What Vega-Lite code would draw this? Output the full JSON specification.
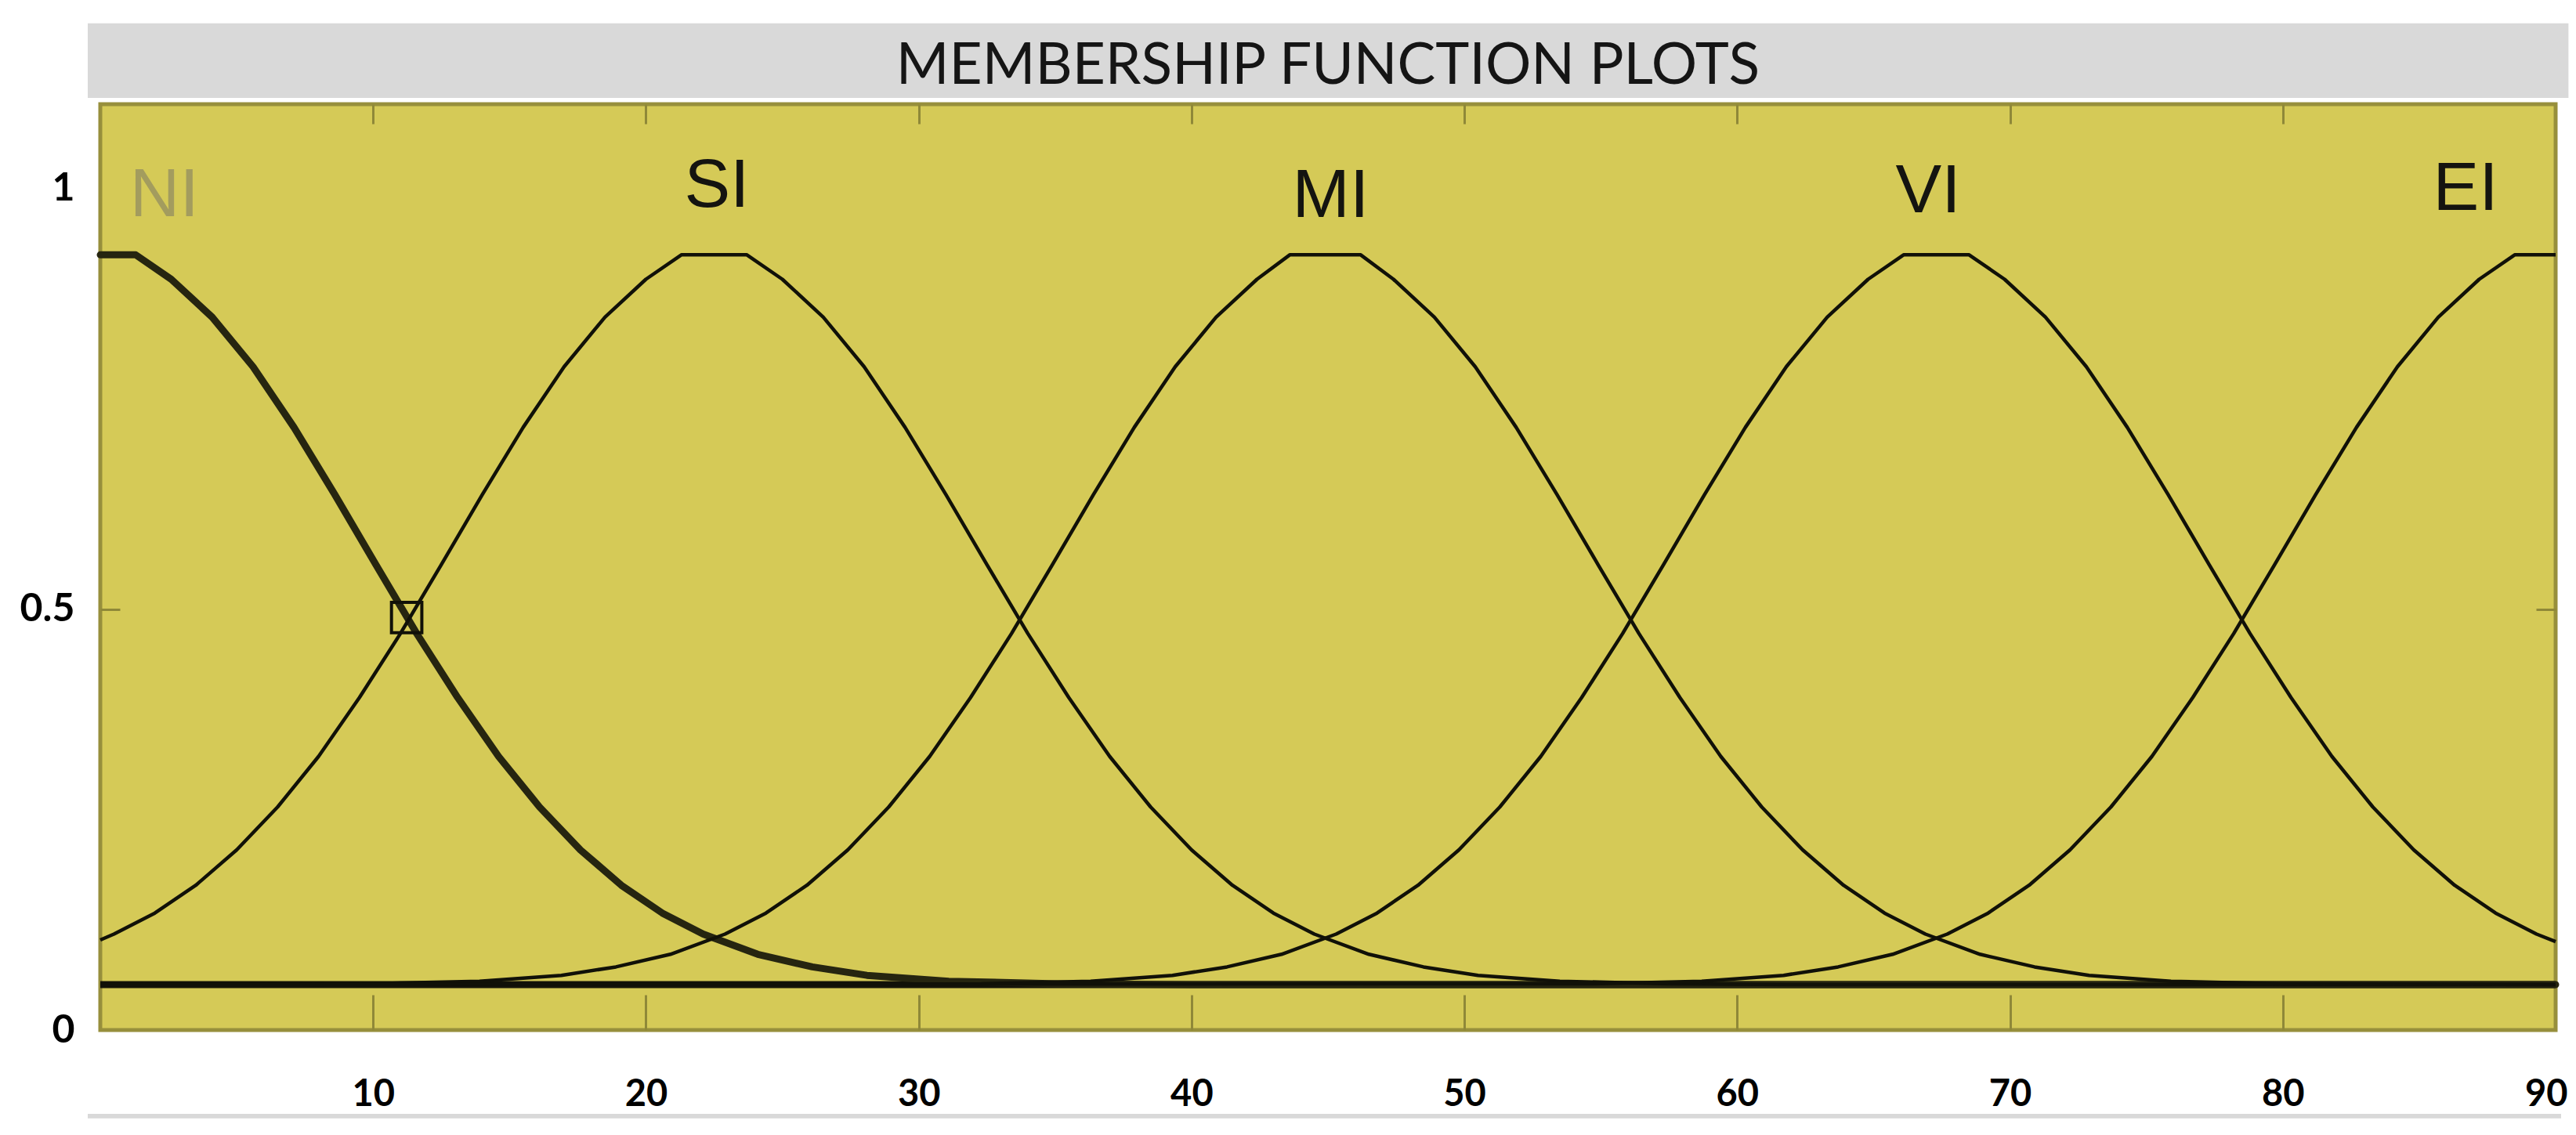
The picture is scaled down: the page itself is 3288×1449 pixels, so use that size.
{
  "$schema": "https://vega.github.io/schema/vega-lite/v6.json",
  "width": 3134,
  "height": 1182,
  "autosize": {"type": "none"},
  "padding": {"left": 128, "top": 133, "right": 26, "bottom": 134},
  "background": "#ffffff",
  "config": {
    "font": "Lato",
    "view": {"fill": "#d5ca57", "stroke": "#978f3c", "strokeWidth": 5}
  },
  "datasets": {
    "curves": [
      {"mf":"NI","x":0,"y":0.921},{"mf":"NI","x":1.3,"y":0.921},{"mf":"NI","x":2.6,"y":0.892},{"mf":"NI","x":4.1,"y":0.847},{"mf":"NI","x":5.6,"y":0.788},{"mf":"NI","x":7.1,"y":0.716},{"mf":"NI","x":8.6,"y":0.636},{"mf":"NI","x":10.1,"y":0.553},{"mf":"NI","x":11.6,"y":0.471},{"mf":"NI","x":13.1,"y":0.395},{"mf":"NI","x":14.6,"y":0.325},{"mf":"NI","x":16.1,"y":0.265},{"mf":"NI","x":17.6,"y":0.214},{"mf":"NI","x":19.1,"y":0.172},{"mf":"NI","x":20.6,"y":0.139},{"mf":"NI","x":22.1,"y":0.114},{"mf":"NI","x":24.1,"y":0.09},{"mf":"NI","x":26.1,"y":0.075},{"mf":"NI","x":28.1,"y":0.065},{"mf":"NI","x":31.1,"y":0.058},{"mf":"NI","x":35.1,"y":0.055},{"mf":"NI","x":40,"y":0.054},{"mf":"NI","x":90,"y":0.054},
      {"mf":"SI","x":0,"y":0.107},{"mf":"SI","x":0.5,"y":0.114},{"mf":"SI","x":2,"y":0.139},{"mf":"SI","x":3.5,"y":0.172},{"mf":"SI","x":5,"y":0.214},{"mf":"SI","x":6.5,"y":0.265},{"mf":"SI","x":8,"y":0.325},{"mf":"SI","x":9.5,"y":0.395},{"mf":"SI","x":11,"y":0.471},{"mf":"SI","x":12.5,"y":0.553},{"mf":"SI","x":14,"y":0.636},{"mf":"SI","x":15.5,"y":0.716},{"mf":"SI","x":17,"y":0.788},{"mf":"SI","x":18.5,"y":0.847},{"mf":"SI","x":20,"y":0.892},{"mf":"SI","x":21.3,"y":0.921},{"mf":"SI","x":23.7,"y":0.921},{"mf":"SI","x":25,"y":0.892},{"mf":"SI","x":26.5,"y":0.847},{"mf":"SI","x":28,"y":0.788},{"mf":"SI","x":29.5,"y":0.716},{"mf":"SI","x":31,"y":0.636},{"mf":"SI","x":32.5,"y":0.553},{"mf":"SI","x":34,"y":0.471},{"mf":"SI","x":35.5,"y":0.395},{"mf":"SI","x":37,"y":0.325},{"mf":"SI","x":38.5,"y":0.265},{"mf":"SI","x":40,"y":0.214},{"mf":"SI","x":41.5,"y":0.172},{"mf":"SI","x":43,"y":0.139},{"mf":"SI","x":44.5,"y":0.114},{"mf":"SI","x":46.5,"y":0.09},{"mf":"SI","x":48.5,"y":0.075},{"mf":"SI","x":50.5,"y":0.065},{"mf":"SI","x":53.5,"y":0.058},{"mf":"SI","x":57.5,"y":0.055},{"mf":"SI","x":62,"y":0.054},{"mf":"SI","x":90,"y":0.054},
      {"mf":"MI","x":0,"y":0.054},{"mf":"MI","x":9.9,"y":0.055},{"mf":"MI","x":13.9,"y":0.058},{"mf":"MI","x":16.9,"y":0.065},{"mf":"MI","x":18.9,"y":0.075},{"mf":"MI","x":20.9,"y":0.09},{"mf":"MI","x":22.9,"y":0.114},{"mf":"MI","x":24.4,"y":0.139},{"mf":"MI","x":25.9,"y":0.172},{"mf":"MI","x":27.4,"y":0.214},{"mf":"MI","x":28.9,"y":0.265},{"mf":"MI","x":30.4,"y":0.325},{"mf":"MI","x":31.9,"y":0.395},{"mf":"MI","x":33.4,"y":0.471},{"mf":"MI","x":34.9,"y":0.553},{"mf":"MI","x":36.4,"y":0.636},{"mf":"MI","x":37.9,"y":0.716},{"mf":"MI","x":39.4,"y":0.788},{"mf":"MI","x":40.9,"y":0.847},{"mf":"MI","x":42.4,"y":0.892},{"mf":"MI","x":43.6,"y":0.921},{"mf":"MI","x":46.2,"y":0.921},{"mf":"MI","x":47.4,"y":0.892},{"mf":"MI","x":48.9,"y":0.847},{"mf":"MI","x":50.4,"y":0.788},{"mf":"MI","x":51.9,"y":0.716},{"mf":"MI","x":53.4,"y":0.636},{"mf":"MI","x":54.9,"y":0.553},{"mf":"MI","x":56.4,"y":0.471},{"mf":"MI","x":57.9,"y":0.395},{"mf":"MI","x":59.4,"y":0.325},{"mf":"MI","x":60.9,"y":0.265},{"mf":"MI","x":62.4,"y":0.214},{"mf":"MI","x":63.9,"y":0.172},{"mf":"MI","x":65.4,"y":0.139},{"mf":"MI","x":66.9,"y":0.114},{"mf":"MI","x":68.9,"y":0.09},{"mf":"MI","x":70.9,"y":0.075},{"mf":"MI","x":72.9,"y":0.065},{"mf":"MI","x":75.9,"y":0.058},{"mf":"MI","x":79.9,"y":0.055},{"mf":"MI","x":90,"y":0.054},
      {"mf":"VI","x":0,"y":0.054},{"mf":"VI","x":32.3,"y":0.055},{"mf":"VI","x":36.3,"y":0.058},{"mf":"VI","x":39.3,"y":0.065},{"mf":"VI","x":41.3,"y":0.075},{"mf":"VI","x":43.3,"y":0.09},{"mf":"VI","x":45.3,"y":0.114},{"mf":"VI","x":46.8,"y":0.139},{"mf":"VI","x":48.3,"y":0.172},{"mf":"VI","x":49.8,"y":0.214},{"mf":"VI","x":51.3,"y":0.265},{"mf":"VI","x":52.8,"y":0.325},{"mf":"VI","x":54.3,"y":0.395},{"mf":"VI","x":55.8,"y":0.471},{"mf":"VI","x":57.3,"y":0.553},{"mf":"VI","x":58.8,"y":0.636},{"mf":"VI","x":60.3,"y":0.716},{"mf":"VI","x":61.8,"y":0.788},{"mf":"VI","x":63.3,"y":0.847},{"mf":"VI","x":64.8,"y":0.892},{"mf":"VI","x":66.1,"y":0.921},{"mf":"VI","x":68.5,"y":0.921},{"mf":"VI","x":69.8,"y":0.892},{"mf":"VI","x":71.3,"y":0.847},{"mf":"VI","x":72.8,"y":0.788},{"mf":"VI","x":74.3,"y":0.716},{"mf":"VI","x":75.8,"y":0.636},{"mf":"VI","x":77.3,"y":0.553},{"mf":"VI","x":78.8,"y":0.471},{"mf":"VI","x":80.3,"y":0.395},{"mf":"VI","x":81.8,"y":0.325},{"mf":"VI","x":83.3,"y":0.265},{"mf":"VI","x":84.8,"y":0.214},{"mf":"VI","x":86.3,"y":0.172},{"mf":"VI","x":87.8,"y":0.139},{"mf":"VI","x":89.3,"y":0.114},{"mf":"VI","x":90,"y":0.105},
      {"mf":"EI","x":0,"y":0.054},{"mf":"EI","x":54.7,"y":0.055},{"mf":"EI","x":58.7,"y":0.058},{"mf":"EI","x":61.7,"y":0.065},{"mf":"EI","x":63.7,"y":0.075},{"mf":"EI","x":65.7,"y":0.09},{"mf":"EI","x":67.7,"y":0.114},{"mf":"EI","x":69.2,"y":0.139},{"mf":"EI","x":70.7,"y":0.172},{"mf":"EI","x":72.2,"y":0.214},{"mf":"EI","x":73.7,"y":0.265},{"mf":"EI","x":75.2,"y":0.325},{"mf":"EI","x":76.7,"y":0.395},{"mf":"EI","x":78.2,"y":0.471},{"mf":"EI","x":79.7,"y":0.553},{"mf":"EI","x":81.2,"y":0.636},{"mf":"EI","x":82.7,"y":0.716},{"mf":"EI","x":84.2,"y":0.788},{"mf":"EI","x":85.7,"y":0.847},{"mf":"EI","x":87.2,"y":0.892},{"mf":"EI","x":88.5,"y":0.921},{"mf":"EI","x":90,"y":0.921}
    ],
    "labels": [
      {"label":"NI","x":2.35,"y":0.991},
      {"label":"SI","x":22.6,"y":1.002},
      {"label":"MI","x":45.1,"y":0.99},
      {"label":"VI","x":67.0,"y":0.996},
      {"label":"EI","x":86.7,"y":0.999}
    ],
    "marker": [{"mf":"NI","x":11.23,"y":0.49}]
  },
  "resolve": {"axis": {"x": "independent", "y": "independent"}},
  "layer": [
    {
      "data": {"values": [{}]},
      "mark": {"type": "rect", "color": "#d9d9d9"},
      "encoding": {
        "x": {"datum": -0.46, "type": "quantitative", "scale": {"domain": [0, 90], "nice": false}, "axis": null},
        "x2": {"datum": 90.47},
        "y": {"datum": 1.1075, "type": "quantitative", "scale": {"domain": [0, 1.1], "nice": false}, "axis": null},
        "y2": {"datum": 1.196}
      }
    },
    {
      "data": {"values": [{}]},
      "mark": {"type": "text", "text": "MEMBERSHIP FUNCTION PLOTS", "font": "Lato", "fontSize": 73, "color": "#151515", "baseline": "alphabetic", "align": "center"},
      "encoding": {
        "x": {"datum": 45, "type": "quantitative", "scale": {"domain": [0, 90], "nice": false}, "axis": null},
        "y": {"datum": 1.1243, "type": "quantitative", "scale": {"domain": [0, 1.1], "nice": false}, "axis": null}
      }
    },
    {
      "data": {"values": [{}]},
      "mark": {"type": "rect", "color": "#d9d9d9"},
      "encoding": {
        "x": {"datum": -0.46, "type": "quantitative", "scale": {"domain": [0, 90], "nice": false}, "axis": null},
        "x2": {"datum": 90.2},
        "y": {"datum": -0.105, "type": "quantitative", "scale": {"domain": [0, 1.1], "nice": false}, "axis": null},
        "y2": {"datum": -0.0996}
      }
    },
    {
      "data": {"values": [{}]},
      "mark": {"type": "rule", "color": "#16150a", "strokeWidth": 9},
      "encoding": {
        "y": {"datum": 0.054, "type": "quantitative", "scale": {"domain": [0, 1.1], "nice": false}, "axis": null}
      }
    },
    {
      "data": {"name": "curves"},
      "transform": [{"filter": "datum.mf === 'NI'"}],
      "mark": {"type": "line", "color": "#262510", "strokeWidth": 9, "strokeJoin": "round", "strokeCap": "round"},
      "encoding": {
        "x": {"field": "x", "type": "quantitative", "scale": {"domain": [0, 90], "nice": false}, "axis": null},
        "y": {"field": "y", "type": "quantitative", "scale": {"domain": [0, 1.1], "nice": false}, "axis": null},
        "detail": {"field": "mf"}
      }
    },
    {
      "data": {"name": "curves"},
      "transform": [{"filter": "datum.mf !== 'NI'"}],
      "mark": {"type": "line", "color": "#111108", "strokeWidth": 4.5, "strokeJoin": "round"},
      "encoding": {
        "x": {
          "field": "x", "type": "quantitative",
          "scale": {"domain": [0, 90], "nice": false},
          "axis": {
            "orient": "bottom", "title": null, "grid": false, "domain": false,
            "values": [10, 20, 30, 40, 50, 60, 70, 80, 90], "format": "d",
            "tickSize": -45, "tickWidth": 3, "tickColor": "#8f8838",
            "tickOpacity": {"condition": {"test": "datum.value === 90", "value": 0}, "value": 1},
            "labelPadding": 104, "labelFont": "Lato", "labelFontSize": 47, "labelFontWeight": "bold", "labelColor": "#000000",
            "labelFlush": true, "labelFlushOffset": 15
          }
        },
        "y": {
          "field": "y", "type": "quantitative",
          "scale": {"domain": [0, 1.1], "nice": false},
          "axis": {
            "orient": "left", "title": null, "grid": false, "domain": false,
            "values": [0, 0.5, 1], "format": "~g",
            "tickSize": -25, "tickWidth": 3, "tickColor": "#8f8838",
            "tickOpacity": {"condition": {"test": "datum.value === 0.5", "value": 1}, "value": 0},
            "labelPadding": 58, "labelFont": "Lato", "labelFontSize": 50, "labelFontWeight": "bold", "labelColor": "#000000"
          }
        },
        "detail": {"field": "mf"}
      }
    },
    {
      "data": {"name": "marker"},
      "mark": {"type": "point", "shape": "square", "size": 1500, "filled": false, "stroke": "#111108", "strokeWidth": 4, "opacity": 1},
      "encoding": {
        "x": {"field": "x", "type": "quantitative", "scale": {"domain": [0, 90], "nice": false}, "axis": null},
        "y": {"field": "y", "type": "quantitative", "scale": {"domain": [0, 1.1], "nice": false}, "axis": null}
      }
    },
    {
      "data": {"name": "labels"},
      "mark": {"type": "text", "font": "Liberation Sans", "fontSize": 88, "baseline": "middle", "align": "center"},
      "encoding": {
        "x": {
          "field": "x", "type": "quantitative",
          "scale": {"domain": [0, 90], "nice": false},
          "axis": {
            "orient": "top", "title": null, "grid": false, "domain": false, "labels": false,
            "values": [10, 20, 30, 40, 50, 60, 70, 80],
            "tickSize": -25, "tickWidth": 3, "tickColor": "#8f8838"
          }
        },
        "y": {
          "field": "y", "type": "quantitative",
          "scale": {"domain": [0, 1.1], "nice": false},
          "axis": {
            "orient": "right", "title": null, "grid": false, "domain": false, "labels": false,
            "values": [0.5],
            "tickSize": -25, "tickWidth": 3, "tickColor": "#8f8838"
          }
        },
        "text": {"field": "label"},
        "color": {
          "field": "label", "type": "nominal", "legend": null,
          "scale": {"domain": ["NI", "SI", "MI", "VI", "EI"], "range": ["#a39c5e", "#141410", "#141410", "#141410", "#141410"]}
        }
      }
    }
  ]
}
